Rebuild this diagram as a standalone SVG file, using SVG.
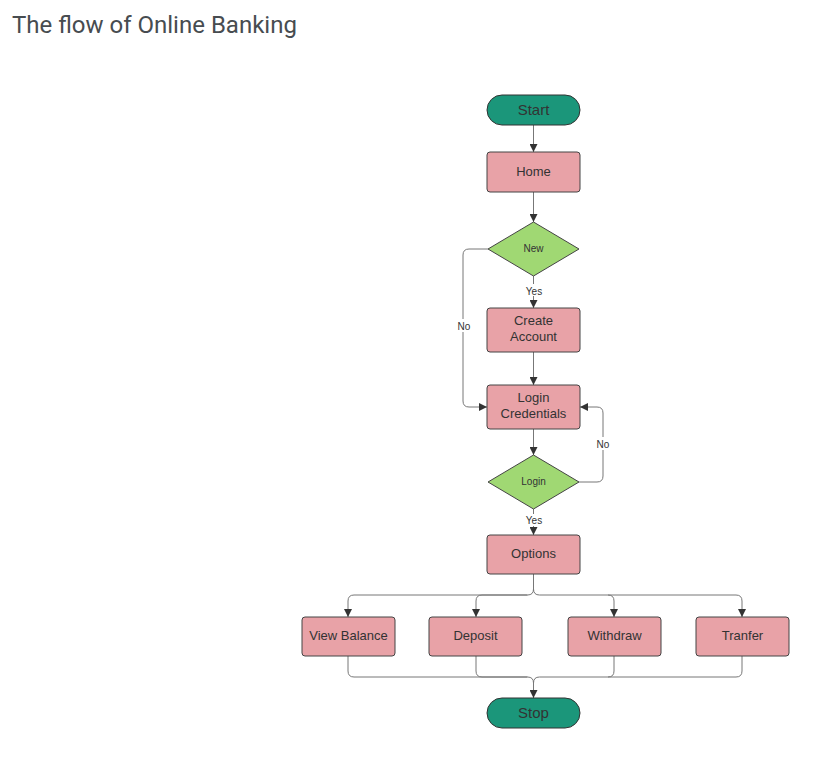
<svg xmlns="http://www.w3.org/2000/svg" width="825" height="775" viewBox="0 0 825 775">
<defs>
<marker id="ah" viewBox="0 0 10 10" refX="10" refY="5" markerWidth="8" markerHeight="8" markerUnits="userSpaceOnUse" orient="auto">
<path d="M0,0 L10,5 L0,10 Z" fill="#333"/>
</marker>
<style>
.term{fill:#1b967a;stroke:#333;stroke-width:1}
.proc{fill:#e8a2a7;stroke:#444;stroke-width:1}
.dec{fill:#a0d873;stroke:#444;stroke-width:1}
.t{font-family:"Liberation Sans",Arial,sans-serif;fill:#333;text-anchor:middle}
.big{font-size:15px}
.mid{font-size:13px}
.sm{font-size:10px}
.con path{fill:none;stroke:#777;stroke-width:1}
.arr{marker-end:url(#ah)}
</style>
</defs>
<rect width="825" height="775" fill="#fff"/>
<text x="12" y="33" font-family="Roboto,'Liberation Sans',sans-serif" font-size="24" fill="#474c50">The flow of Online Banking</text>

<g class="con">
<path class="arr" d="M533.5,125 V152"/>
<path class="arr" d="M533.5,192 V222"/>
<path class="arr" d="M533.5,276 V308"/>
<path class="arr" d="M533.5,352 V385"/>
<path class="arr" d="M488,249 H469 Q463,249 463,255 V401 Q463,407 469,407 H487"/>
<path class="arr" d="M533.5,429 V455"/>
<path class="arr" d="M579,482 H597 Q603,482 603,476 V413 Q603,407 597,407 H580"/>
<path class="arr" d="M533.5,509 V535"/>
<path class="arr" d="M533.5,574 V589 Q533.5,595 527.5,595 H354 Q348,595 348,601 V617"/>
<path class="arr" d="M527.5,595 H482 Q476,595 476,601 V617"/>
<path class="arr" d="M533.5,589 Q533.5,595 539.5,595 H608 Q614,595 614,601 V617"/>
<path class="arr" d="M608,595 H736 Q742,595 742,601 V617"/>
<path d="M348,656 V671 Q348,677 354,677 H527.5 Q533.5,677 533.5,683"/>
<path d="M476,656 V671 Q476,677 482,677 H527.5"/>
<path d="M614,656 V671 Q614,677 608,677 H539.5 Q533.5,677 533.5,683"/>
<path d="M742,656 V671 Q742,677 736,677 H608"/>
<path class="arr" d="M533.5,683 V698"/>
<rect x="525" y="284" width="18" height="12" fill="#fff"/>
<text class="t sm" x="534" y="295">Yes</text>
<rect x="454" y="319" width="18" height="13" fill="#fff"/>
<text class="t sm" x="464" y="330">No</text>
<rect x="594" y="437" width="18" height="13" fill="#fff"/>
<text class="t sm" x="603" y="448">No</text>
<rect x="525" y="514" width="18" height="12" fill="#fff"/>
<text class="t sm" x="534" y="524">Yes</text>
</g>

<g id="start"><rect class="term" x="487" y="95" width="93" height="30" rx="15"/><text class="t big" x="533.5" y="115">Start</text></g>
<g id="home"><rect class="proc" x="487" y="152" width="93" height="40" rx="3"/><text class="t mid" x="533.5" y="176">Home</text></g>
<g id="new"><path class="dec" d="M533.5,222 L579,249 L533.5,276 L488,249 Z"/><text class="t sm" x="533.5" y="252">New</text></g>
<g id="create"><rect class="proc" x="487" y="308" width="93" height="44" rx="3"/><text class="t mid" x="533.5" y="325">Create</text><text class="t mid" x="533.5" y="341">Account</text></g>
<g id="credentials"><rect class="proc" x="487" y="385" width="93" height="44" rx="3"/><text class="t mid" x="533.5" y="402">Login</text><text class="t mid" x="533.5" y="418">Credentials</text></g>
<g id="login"><path class="dec" d="M533.5,455 L579,482 L533.5,509 L488,482 Z"/><text class="t sm" x="533.5" y="485">Login</text></g>
<g id="options"><rect class="proc" x="487" y="535" width="93" height="39" rx="3"/><text class="t mid" x="533.5" y="558">Options</text></g>
<g id="view"><rect class="proc" x="302" y="617" width="93" height="39" rx="3"/><text class="t mid" x="348.5" y="640">View Balance</text></g>
<g id="deposit"><rect class="proc" x="429" y="617" width="93" height="39" rx="3"/><text class="t mid" x="475.5" y="640">Deposit</text></g>
<g id="withdraw"><rect class="proc" x="568" y="617" width="93" height="39" rx="3"/><text class="t mid" x="614.5" y="640">Withdraw</text></g>
<g id="tranfer"><rect class="proc" x="696" y="617" width="93" height="39" rx="3"/><text class="t mid" x="742.5" y="640">Tranfer</text></g>
<g id="stop"><rect class="term" x="487" y="698" width="93" height="30" rx="15"/><text class="t big" x="533.5" y="718">Stop</text></g>
</svg>
